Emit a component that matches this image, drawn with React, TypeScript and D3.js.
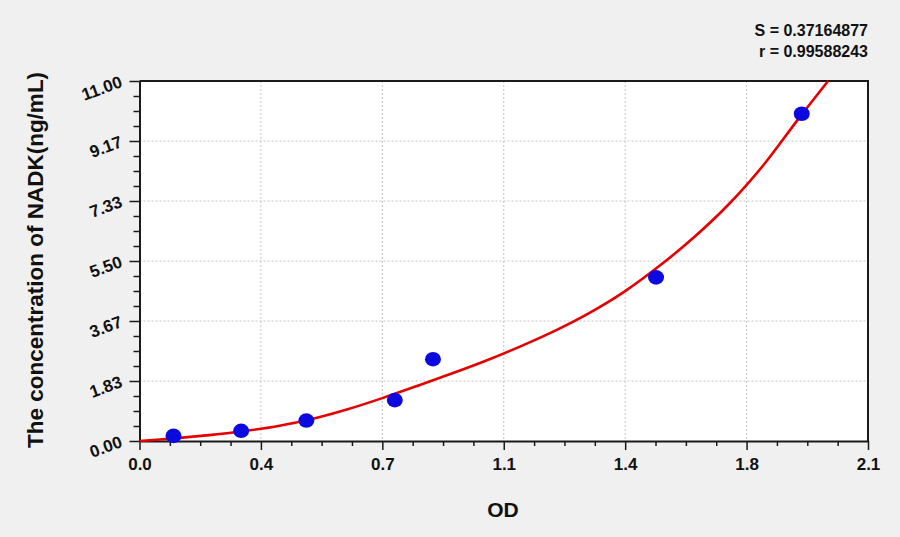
import React, { useEffect, useRef } from 'react';
import * as d3 from 'd3';

// standards (OD, concentration in ng/mL)
const odValues = [0.098, 0.293, 0.481, 0.736, 0.846, 1.489, 1.909];
const concValues = [0.156, 0.312, 0.625, 1.25, 2.5, 5, 10];

// fitted curve
const curveOd = [0, 0.1, 0.2, 0.3, 0.4, 0.5, 0.6, 0.7, 0.8, 0.9, 1.0, 1.1, 1.2, 1.3, 1.4, 1.5, 1.6, 1.7, 1.8, 1.9, 1.985];
const curveConc = [0, 0.08, 0.18, 0.3, 0.46, 0.68, 0.97, 1.31, 1.68, 2.06, 2.46, 2.9, 3.38, 3.93, 4.58, 5.36, 6.24, 7.25, 8.45, 9.85, 11.0];

const xTickLabels = ['0.0', '0.4', '0.7', '1.1', '1.4', '1.8', '2.1'];
const yTickLabels = ['0.00', '1.83', '3.67', '5.50', '7.33', '9.17', '11.00'];
const statLines = ['S = 0.37164877', 'r = 0.99588243'];

const W = 900;
const H = 537;
const FONT = 'Arial, "Liberation Sans", sans-serif';

const App: React.FC = () => {
  const ref = useRef<SVGSVGElement>(null);

  useEffect(() => {
    if (!ref.current) return;
    const svg = d3.select(ref.current);
    svg.selectAll('*').remove();

    const left = 139.5, right = 868, top = 81, bottom = 441;
    const x = d3.scaleLinear().domain([0, 2.1]).range([left, right]);
    const y = d3.scaleLinear().domain([0, 11]).range([bottom, top]);

    const xMajor = xTickLabels.map((_, i) => i * 0.35);
    const yMajor = yTickLabels.map((_, i) => (i * 11) / 6);
    const xMinor = d3.range(0, 25).map(i => i * 0.0875).filter((_, i) => i % 4 !== 0);
    const yMinor = d3.range(0, 25).map(i => (i * 11) / 24).filter((_, i) => i % 4 !== 0);

    svg.append('rect').attr('width', W).attr('height', H).attr('fill', '#f0f0f0');
    svg.append('rect')
      .attr('x', left).attr('y', top)
      .attr('width', right - left).attr('height', bottom - top)
      .attr('fill', '#ffffff');

    // grid
    const grid = svg.append('g').attr('stroke', '#c4c4c4').attr('stroke-width', 1).attr('stroke-dasharray', '2,2');
    grid.selectAll('line.gx').data(xMajor.slice(1, -1)).enter().append('line')
      .attr('x1', d => x(d)).attr('x2', d => x(d)).attr('y1', top).attr('y2', bottom);
    grid.selectAll('line.gy').data(yMajor.slice(1, -1)).enter().append('line')
      .attr('x1', left).attr('x2', right).attr('y1', d => y(d)).attr('y2', d => y(d));

    // top / right frame
    svg.append('path')
      .attr('d', `M${left},${top}H${right}V${bottom}`)
      .attr('fill', 'none').attr('stroke', '#1a1a1a').attr('stroke-width', 2);

    // axes
    const xAxis = svg.append('g').attr('transform', `translate(0,${bottom})`)
      .call(d3.axisBottom(x).tickValues(xMajor).tickFormat((_, i) => xTickLabels[i]).tickSize(9).tickSizeOuter(0).tickPadding(8));
    svg.append('g').attr('transform', `translate(0,${bottom})`)
      .call(d3.axisBottom(x).tickValues(xMinor).tickFormat(() => '').tickSize(5).tickSizeOuter(0))
      .call(g => g.select('.domain').remove());
    const yAxis = svg.append('g').attr('transform', `translate(${left},0)`)
      .call(d3.axisLeft(y).tickValues(yMajor).tickFormat((_, i) => yTickLabels[i]).tickSize(10).tickSizeOuter(0).tickPadding(8));
    svg.append('g').attr('transform', `translate(${left},0)`)
      .call(d3.axisLeft(y).tickValues(yMinor).tickFormat(() => '').tickSize(6).tickSizeOuter(0))
      .call(g => g.select('.domain').remove());

    svg.selectAll('.tick line').attr('stroke', '#1a1a1a').attr('stroke-width', 1.5);
    svg.selectAll('.domain').attr('stroke', '#1a1a1a').attr('stroke-width', 2);
    xAxis.attr('font-size', 17).attr('font-family', FONT);
    xAxis.selectAll('text')
      .attr('font-weight', 'bold').attr('fill', '#111');
    yAxis.attr('font-size', 17).attr('font-family', FONT);
    yAxis.selectAll('text')
      .attr('font-weight', 'bold').attr('fill', '#111')
      .attr('transform', 'rotate(-20,-18,0)');

    // fitted curve
    svg.append('clipPath').attr('id', 'plotClip').append('rect')
      .attr('x', left).attr('y', top - 1).attr('width', right - left).attr('height', bottom - top + 2);
    const line = d3.line<number>()
      .x((_, i) => x(curveOd[i]))
      .y(d => y(d))
      .curve(d3.curveCatmullRom);
    svg.append('path')
      .datum(curveConc)
      .attr('d', line)
      .attr('fill', 'none')
      .attr('stroke', '#e60000')
      .attr('stroke-width', 2.6)
      .attr('clip-path', 'url(#plotClip)');

    // standards
    svg.selectAll('ellipse.pt').data(concValues).enter().append('ellipse')
      .attr('cx', (_, i) => x(odValues[i]))
      .attr('cy', d => y(d))
      .attr('rx', 8).attr('ry', 7.3)
      .attr('fill', '#0a0ae0');

    // titles
    svg.append('text')
      .attr('transform', `translate(43,${(top + bottom) / 2 - 1}) rotate(-90)`)
      .attr('text-anchor', 'middle')
      .attr('font-family', FONT).attr('font-size', 22.5).attr('font-weight', 'bold').attr('fill', '#111')
      .text('The concentration of NADK(ng/mL)');
    svg.append('text')
      .attr('x', 503).attr('y', 517)
      .attr('text-anchor', 'middle')
      .attr('font-family', FONT).attr('font-size', 21).attr('font-weight', 'bold').attr('fill', '#111')
      .text('OD');

    svg.selectAll('text.stat').data(statLines).enter().append('text')
      .attr('x', right).attr('y', (_, i) => 36 + i * 21)
      .attr('text-anchor', 'end')
      .attr('font-family', FONT).attr('font-size', 16).attr('font-weight', 'bold').attr('fill', '#111')
      .text(d => d);
  }, []);

  return (
    <svg ref={ref} width={W} height={H} style={{ position: 'absolute', left: 0, top: 0 }} />
  );
};

export default App;
